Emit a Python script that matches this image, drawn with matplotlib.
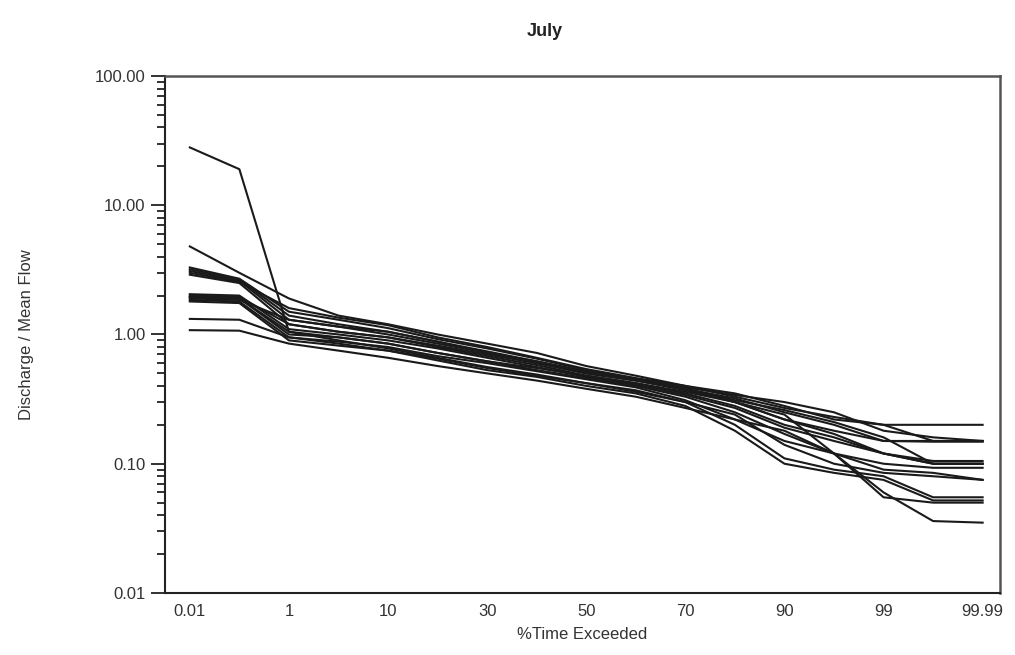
import matplotlib
matplotlib.use("Agg")
import matplotlib.pyplot as plt
from matplotlib.ticker import LogLocator, FixedLocator, FuncFormatter, NullFormatter

plt.rcParams['font.family'] = ['Liberation Sans', 'DejaVu Sans']

# Exceedance percentages (plotted at evenly spaced positions)
pct = ["0.01", "0.1", "1", "5", "10", "20", "30", "40", "50", "60", "70", "80", "90", "95", "99", "99.9", "99.99"]
tick_labels = ["0.01", "1", "10", "30", "50", "70", "90", "99", "99.99"]

# Discharge / mean flow for each year
s01 = [28.0, 19.0, 1.05, 0.95, 0.85, 0.72, 0.62, 0.55, 0.48, 0.42, 0.36, 0.30, 0.22, 0.17, 0.12, 0.10, 0.10]
s02 = [4.8, 3.0, 1.9, 1.4, 1.20, 1.00, 0.85, 0.72, 0.57, 0.48, 0.40, 0.33, 0.27, 0.23, 0.20, 0.20, 0.20]
s03 = [3.3, 2.7, 1.5, 1.30, 1.12, 0.92, 0.78, 0.65, 0.53, 0.45, 0.38, 0.32, 0.25, 0.20, 0.15, 0.15, 0.15]
s04 = [3.1, 2.6, 1.3, 1.15, 1.00, 0.85, 0.72, 0.60, 0.50, 0.44, 0.37, 0.30, 0.22, 0.18, 0.15, 0.148, 0.148]
s05 = [2.9, 2.5, 1.2, 1.05, 0.95, 0.80, 0.68, 0.58, 0.48, 0.42, 0.35, 0.28, 0.20, 0.16, 0.12, 0.105, 0.105]
s06 = [2.05, 2.0, 1.1, 1.0, 0.90, 0.78, 0.66, 0.56, 0.47, 0.41, 0.34, 0.27, 0.19, 0.15, 0.12, 0.10, 0.10]
s07 = [1.95, 1.9, 1.0, 0.95, 0.85, 0.72, 0.62, 0.53, 0.46, 0.40, 0.33, 0.25, 0.17, 0.12, 0.10, 0.093, 0.093]
s08 = [1.85, 1.8, 0.95, 0.88, 0.80, 0.68, 0.60, 0.52, 0.45, 0.39, 0.31, 0.22, 0.15, 0.12, 0.09, 0.085, 0.075]
s09 = [1.80, 1.75, 0.90, 0.82, 0.75, 0.65, 0.55, 0.48, 0.42, 0.37, 0.30, 0.20, 0.11, 0.09, 0.08, 0.055, 0.055]
s10 = [1.32, 1.30, 0.95, 0.85, 0.75, 0.63, 0.53, 0.47, 0.40, 0.35, 0.28, 0.18, 0.10, 0.085, 0.075, 0.052, 0.052]
s11 = [1.08, 1.07, 0.85, 0.75, 0.66, 0.57, 0.50, 0.44, 0.38, 0.33, 0.27, 0.22, 0.18, 0.12, 0.055, 0.05, 0.05]
s12 = [2.0, 1.95, 1.2, 1.05, 0.95, 0.82, 0.70, 0.60, 0.50, 0.44, 0.38, 0.30, 0.24, 0.12, 0.06, 0.036, 0.035]
s13 = [3.2, 2.65, 1.4, 1.2, 1.05, 0.88, 0.74, 0.62, 0.51, 0.45, 0.39, 0.34, 0.30, 0.25, 0.18, 0.16, 0.15]
s14 = [1.9, 1.85, 1.3, 1.15, 1.05, 0.88, 0.72, 0.62, 0.52, 0.45, 0.38, 0.31, 0.26, 0.21, 0.16, 0.10, 0.10]
s15 = [3.0, 2.55, 1.6, 1.35, 1.18, 0.95, 0.80, 0.66, 0.54, 0.46, 0.40, 0.35, 0.28, 0.22, 0.20, 0.15, 0.15]
s16 = [1.95, 1.9, 1.05, 0.90, 0.78, 0.66, 0.56, 0.49, 0.42, 0.36, 0.30, 0.24, 0.14, 0.10, 0.085, 0.08, 0.075]

series = [s01, s02, s03, s04, s05, s06, s07, s08, s09, s10, s11, s12, s13, s14, s15, s16]

fig = plt.figure(figsize=(10.15, 6.55), dpi=100)
ax = fig.add_axes([0.1626, 0.0947, 0.8226, 0.7893])

xpos = list(range(len(pct)))
for s in series:
    ax.plot(xpos, s, color='#1a1a1a', linewidth=1.5)

ax.set_yscale('log')
ax.set_ylim(0.01, 100)
ax.set_xlim(-0.5, 16.35)

ax.xaxis.set_major_locator(FixedLocator([pct.index(t) for t in tick_labels]))
ax.set_xticklabels(tick_labels)
ax.tick_params(axis='x', length=0, pad=8, labelsize=12, labelcolor='#333333')

ax.yaxis.set_major_locator(LogLocator(base=10, numticks=10))
ax.yaxis.set_major_formatter(FuncFormatter(lambda v, p: f"{v:.2f}"))
ax.yaxis.set_minor_locator(LogLocator(base=10, subs=range(2, 10), numticks=20))
ax.yaxis.set_minor_formatter(NullFormatter())
ax.tick_params(axis='y', which='major', length=10, width=1.3, direction='out', pad=4,
               labelsize=12, labelcolor='#333333', color='#222222')
ax.tick_params(axis='y', which='minor', length=6, width=1.3, direction='out', color='#222222')

for side in ['left', 'bottom']:
    ax.spines[side].set_color('#222222')
    ax.spines[side].set_linewidth(1.5)
for side in ['top', 'right']:
    ax.spines[side].set_color('#555555')
    ax.spines[side].set_linewidth(1.8)

ax.set_xlabel('%Time Exceeded', fontsize=12, color='#333333', labelpad=6)
ax.set_ylabel('Discharge / Mean Flow', fontsize=12, color='#333333', labelpad=44)
fig.text(0.537, 0.952, 'July', fontsize=13, fontweight='bold', color='#222222',
         ha='center', va='center')

fig.savefig('out.png', dpi=100)
